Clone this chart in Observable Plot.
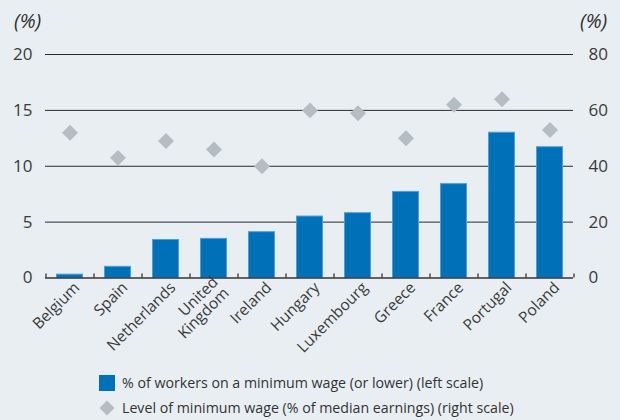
<!DOCTYPE html>
<html>
<head>
<meta charset="utf-8">
<script src="https://cdn.jsdelivr.net/npm/d3@7"></script>
<script src="https://cdn.jsdelivr.net/npm/@observablehq/plot@0.6"></script>
<style>
  html, body { margin: 0; padding: 0; background: #e9eef3; }
  body { width: 620px; height: 420px; position: relative; overflow: hidden; font-family: "Open Sans", sans-serif; color: #333; }
  #chart { position: absolute; left: 0; top: 0; }
  .unit { position: absolute; top: 8px; font-style: italic; font-size: 20px; line-height: 26px; color: #2e2e2e; }
  .legend { position: absolute; left: 99px; font-size: 14.2px; color: #333; display: flex; align-items: center; white-space: nowrap; }
  .sw { display: inline-block; margin-right: 7px; }
</style>
</head>
<body>
<div id="chart"></div>
<div class="unit" style="left:14px">(%)</div>
<div class="unit" style="left:580px">(%)</div>
<div class="legend" style="top:373px"><span class="sw" style="width:16px;height:16px;background:#0070b8"></span>% of workers on a minimum wage (or lower) (left scale)</div>
<div class="legend" style="top:398px"><svg class="sw" width="16" height="16" viewBox="-8 -8 16 16"><path d="M0,-7.5L7.5,0L0,7.5L-7.5,0Z" fill="#b4bec2"/></svg>Level of minimum wage (% of median earnings) (right scale)</div>
<script>
const countries = ["Belgium","Spain","Netherlands","United Kingdom","Ireland","Hungary","Luxembourg","Greece","France","Portugal","Poland"];
const workersShare = [0.3, 1.0, 3.4, 3.5, 4.1, 5.5, 5.8, 7.7, 8.4, 13.0, 11.7];
const minWageLevel = [52, 43, 49, 46, 40, 60, 59, 50, 62, 64, 53];
const leftTicks = [0, 5, 10, 15, 20];

const data = countries.map((c, i) => ({country: c, workers: workersShare[i], wage: minWageLevel[i]}));
const stepPx = 48; // band step in pixels (for boundary ticks)

const chart = Plot.plot({
  width: 620,
  height: 360,
  marginTop: 54,
  marginBottom: 82.5,
  marginLeft: 45,
  marginRight: 47,
  style: {background: "transparent", fontFamily: "Open Sans, sans-serif", color: "#333"},
  x: {domain: countries, paddingInner: 0.44, paddingOuter: 0.22},
  y: {domain: [0, 20]},
  marks: [
    Plot.ruleY(leftTicks.filter(d => d > 0), {stroke: "#2a2a2a", strokeWidth: 1}),
    Plot.barY(data, {x: "country", y: "workers", fill: "#0070b8", stroke: "#4d9fd9", strokeWidth: 1, insetLeft: 0.5, insetRight: 0.5}),
    Plot.dot(data, {x: "country", y: d => d.wage / 4, symbol: "diamond2", r: 7.2, fill: "#b4bec2"}),
    Plot.ruleY([0], {stroke: "#333", strokeWidth: 1.6}),
    Plot.ruleX(countries, {x: d => d, y1: 0, y2: 0.36, dx: -stepPx / 2, stroke: "#333", strokeWidth: 1.3}),
    Plot.ruleX(countries.slice(-1), {x: d => d, y1: 0, y2: 0.36, dx: stepPx / 2, stroke: "#333", strokeWidth: 1.3}),
    Plot.axisY({anchor: "left", ticks: leftTicks, tickSize: 0, tickPadding: 13, label: null, fontSize: 17, fill: "#3a3a3a"}),
    Plot.axisY({anchor: "right", ticks: leftTicks, tickFormat: d => d * 4, tickSize: 0, tickPadding: 15, label: null, fontSize: 17, fill: "#3a3a3a"}),
    Plot.axisX({tickSize: 0, tickRotate: -45, tickPadding: 7, dx: 7, label: null, fontSize: 15.5, fill: "#3a3a3a",
      tickFormat: d => d === "United Kingdom" ? "United\nKingdom" : d})
  ]
});
document.getElementById("chart").appendChild(chart);
</script>
</body>
</html>
